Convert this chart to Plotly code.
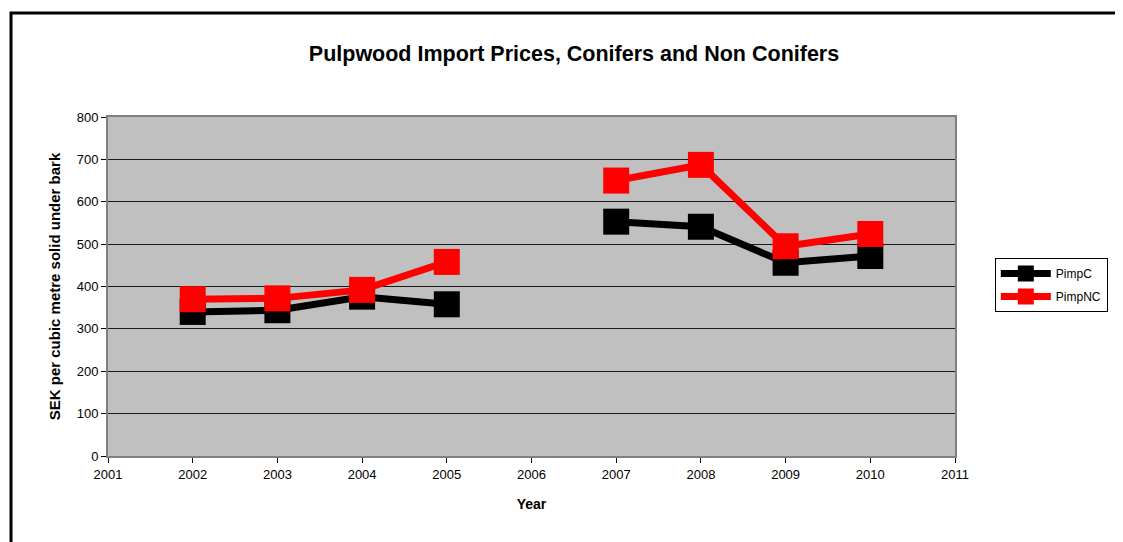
import plotly.graph_objects as go

years = [2002, 2003, 2004, 2005, 2006, 2007, 2008, 2009, 2010]
pimp_c = [340, 344, 376, 358, None, 553, 541, 456, 472]
pimp_nc = [370, 372, 392, 458, None, 650, 687, 495, 524]
x_ticks = list(range(2001, 2012))

FONT = "Liberation Sans, Arial, sans-serif"

fig = go.Figure()
fig.add_trace(go.Scatter(
    x=years, y=pimp_c, name="PimpC", mode="lines+markers",
    line=dict(color="black", width=7),
    marker=dict(symbol="square", size=26, color="black"),
    connectgaps=False, legendgroup="c",
))
fig.add_trace(go.Scatter(
    x=years, y=pimp_nc, name="PimpNC", mode="lines+markers",
    line=dict(color="#FF0000", width=7),
    marker=dict(symbol="square", size=26, color="#FF0000"),
    connectgaps=False, legendgroup="nc",
))

fig.update_layout(
    width=1115, height=534,
    margin=dict(l=100, r=168, t=109, b=86, autoexpand=False),
    paper_bgcolor="white",
    plot_bgcolor="#C0C0C0",
    font=dict(family=FONT, size=13, color="black"),
    title=dict(text="<b>Pulpwood Import Prices, Conifers and Non Conifers</b>",
               x=(574 - 8) / 1115, xanchor="center", y=1 - (53 - 8) / 534, yanchor="middle",
               font=dict(family=FONT, size=21.5, color="black")),
    showlegend=True,
    legend=dict(x=1.047, y=0.584, xanchor="left", yanchor="top",
                bordercolor="black", borderwidth=1, bgcolor="white",
                font=dict(family=FONT, size=12), itemwidth=50,
                traceorder="grouped", tracegroupgap=4),
    xaxis=dict(range=[2001, 2011], tickvals=x_ticks, ticktext=[str(v) for v in x_ticks],
               showgrid=False, zeroline=False, ticks="outside", ticklen=5,
               tickcolor="black", showline=True, linecolor="#808080", linewidth=2,
               mirror=True,
               title=dict(text="<b>Year</b>", font=dict(family=FONT, size=14), standoff=19)),
    yaxis=dict(range=[0, 800], dtick=100, showgrid=True, gridcolor="#1a1a1a", gridwidth=1,
               zeroline=False, ticks="outside", ticklen=5, tickcolor="black",
               showline=True, linecolor="#808080", linewidth=2, mirror=True,
               title=dict(text="<b>SEK per cubic metre solid under bark</b>",
                          font=dict(family=FONT, size=15), standoff=12)),
    shapes=[dict(type="rect", xref="paper", yref="paper",
                 x0=-0.1145, y0=-0.6, x1=1.5, y1=1.307,
                 line=dict(color="black", width=3), layer="below")],
)

fig.write_html("out.html")
